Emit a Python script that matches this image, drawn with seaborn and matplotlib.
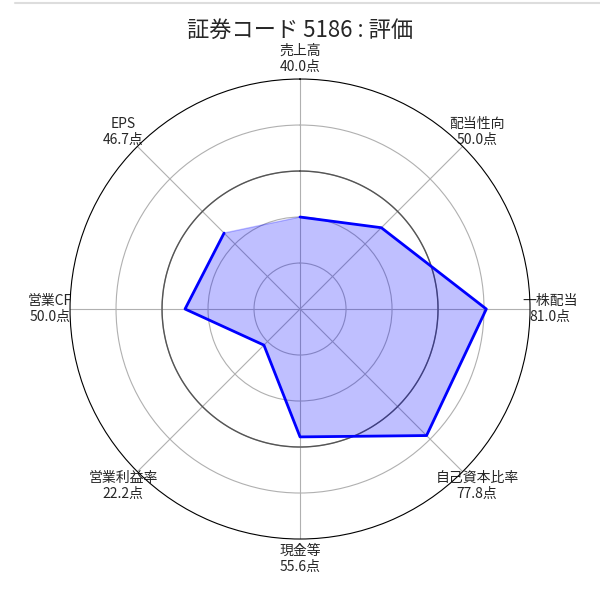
import numpy as np
import pandas as pd
import seaborn as sns
import matplotlib
matplotlib.use('Agg')
from matplotlib import pyplot as plt
from matplotlib.lines import Line2D

# scores per item (clockwise from top)
categories = ['売上高', '配当性向', '一株配当', '自己資本比率', '現金等', '営業利益率', '営業CF', 'EPS']
scores = [40.0, 50.0, 81.0, 77.8, 55.6, 22.2, 50.0, 46.7]
ref_level = 60
r_ticks = [20, 40, 60, 80]
title = '証券コード 5186 : 評価'

sns.set_style('white')
plt.rcParams['font.family'] = ['Noto Sans CJK JP', 'DejaVu Sans']

n = len(categories)
angles = np.linspace(0, 2 * np.pi, n, endpoint=False)
df = pd.DataFrame({'theta': np.append(angles, angles[0]),
                   'score': scores + scores[:1]})

fig = plt.figure(figsize=(6, 5.92), dpi=100)
ax = fig.add_axes([0.1167, 0.0895, 0.7667, 0.777], projection='polar')
ax.set_theta_zero_location('N')
ax.set_theta_direction(-1)

ax.fill(df['theta'], df['score'], color='blue', alpha=0.25, zorder=2)
sns.lineplot(x='theta', y='score', data=df, sort=False, color='blue',
             linewidth=2, ax=ax, zorder=3)

# reference circle
ring = np.linspace(0, 2 * np.pi, 200)
ax.plot(ring, np.full_like(ring, ref_level), color='#555555', linewidth=1, zorder=1)

ax.set_ylim(0, 100)
ax.set_yticks(r_ticks)
ax.set_yticklabels([])
ax.set_xticks(angles)
ax.set_xticklabels([f'{c}\n{s:.1f}点' for c, s in zip(categories, scores)], fontsize=10)
ax.tick_params(axis='x', pad=4)
ax.grid(True, color='#b0b0b0', linewidth=0.8)
ax.spines['polar'].set_color('black')
ax.set_xlabel('')
ax.set_ylabel('')

fig.suptitle(title, fontsize=16, y=0.968)
fig.add_artist(Line2D([0.025, 1.0], [0.995, 0.995], color='#dddddd', linewidth=1.5))

plt.savefig('out.png')
